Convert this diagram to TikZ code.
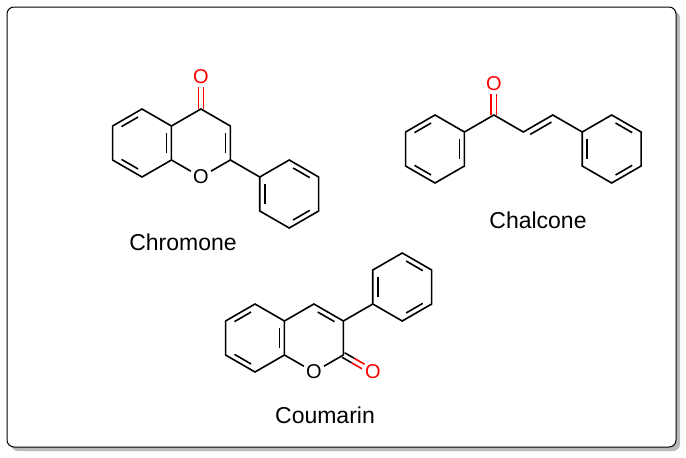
\documentclass[tikz,border=0pt]{standalone}
\usepackage{fontspec}
\setmainfont{Liberation Sans}
\usetikzlibrary{calc}
\newcommand\hexc[2]{%
  \coordinate (#1) at #2;
  \foreach \i/\a in {1/90,2/30,3/-30,4/-90,5/-150,6/150}{\coordinate (#1\i) at ($(#1)+(\a:34)$);}}
\newcommand\innerb[3]{\draw ($($(#1)!0.16!(#2)$)!0.17!(#3)$) -- ($($(#2)!0.16!(#1)$)!0.17!(#3)$);}
\begin{document}
\begin{tikzpicture}[x=1pt,y=1pt,line width=1.6pt,
  atom/.style={inner sep=1.5pt,font=\fontsize{20}{20}\selectfont},
  atomr/.style={atom,text=red},
  lab/.style={font=\fontsize{23}{26}\selectfont}]
\useasboundingbox (0,0) rectangle (686,-458);
\fill[gray!55,rounded corners=7] (11,-11) rectangle (680,-451);
\draw[fill=white,rounded corners=7,line width=1pt] (7,-7) rectangle (676,-447);
% Chromone
\hexc{A}{(142,-143)}
\hexc{B}{($(A)+(58.9,0)$)}
\node[atom] (O1) at (B4) {O};
\draw (A1)--(A2)--(A3)--(A4)--(A5)--(A6)--cycle;
\draw (A2)--(B1)--(B2)--(B3)--(O1)--(A3);
\innerb{A1}{A6}{A}\innerb{A4}{A5}{A}\innerb{A2}{A3}{A}\innerb{B2}{B3}{B}
\node[atomr] (O2) at ($(B1)+(0,32)$) {O};
\draw[red] ($(B1)+(-2.6,0)$) -- ($(B1)+(-2.6,22)$);
\draw[red] ($(B1)+(2.6,0)$) -- ($(B1)+(2.6,22)$);
\hexc{P}{($(B3)+(-30:68)$)}
\draw (B3)--(P6);
\draw (P1)--(P2)--(P3)--(P4)--(P5)--(P6)--cycle;
\innerb{P6}{P5}{P}\innerb{P1}{P2}{P}\innerb{P3}{P4}{P}
\node[lab] (n1) at (183,-242) {Chromone};
% Chalcone
\hexc{C}{(435,-149)}
\coordinate (c1) at ($(C2)+(30:34)$);
\coordinate (c2) at ($(c1)+(-30:34)$);
\coordinate (c3) at ($(c2)+(30:34)$);
\hexc{D}{($(c3)+(-30:68)$)}
\draw (C1)--(C2)--(C3)--(C4)--(C5)--(C6)--cycle;
\draw (D1)--(D2)--(D3)--(D4)--(D5)--(D6)--cycle;
\draw (C2)--(c1)--(c2)--(c3)--(D6);
\draw ($($(c2)!0.14!(c3)$)+(-60:5.5)$) -- ($($(c3)!0.14!(c2)$)+(-60:5.5)$);
\innerb{C1}{C6}{C}\innerb{C4}{C5}{C}\innerb{C2}{C3}{C}
\innerb{D6}{D5}{D}\innerb{D1}{D2}{D}\innerb{D3}{D4}{D}
\node[atomr] (O5) at ($(c1)+(0,31)$) {O};
\draw[red] ($(c1)+(-2.6,0)$) -- ($(c1)+(-2.6,21)$);
\draw[red] ($(c1)+(2.6,0)$) -- ($(c1)+(2.6,21)$);
\node[lab] (n2) at (538,-220) {Chalcone};
% Coumarin
\hexc{E}{(255,-338)}
\hexc{F}{($(E)+(58.9,0)$)}
\node[atom] (O3) at (F4) {O};
\draw (E1)--(E2)--(E3)--(E4)--(E5)--(E6)--cycle;
\draw (E2)--(F1)--(F2)--(F3)--(O3)--(E3);
\innerb{E1}{E6}{E}\innerb{E4}{E5}{E}\innerb{E2}{E3}{E}\innerb{F1}{F2}{F}
\node[atomr] (O4) at ($(F3)+(-30:34)$) {O};
\coordinate (m) at ($(F3)+(-30:11)$);
\coordinate (e) at ($(F3)+(-30:23)$);
\foreach \s in {2.6,-2.6}{
  \draw ($(F3)+(60:\s)$) -- ($(m)+(60:\s)$);
  \draw[red] ($(m)+(60:\s)$) -- ($(e)+(60:\s)$);}
\hexc{G}{($(F2)+(30:68)$)}
\draw (F2)--(G5);
\draw (G1)--(G2)--(G3)--(G4)--(G5)--(G6)--cycle;
\innerb{G6}{G5}{G}\innerb{G1}{G2}{G}\innerb{G3}{G4}{G}
\node[lab] (n3) at (325,-415) {Coumarin};
\end{tikzpicture}
\end{document}
